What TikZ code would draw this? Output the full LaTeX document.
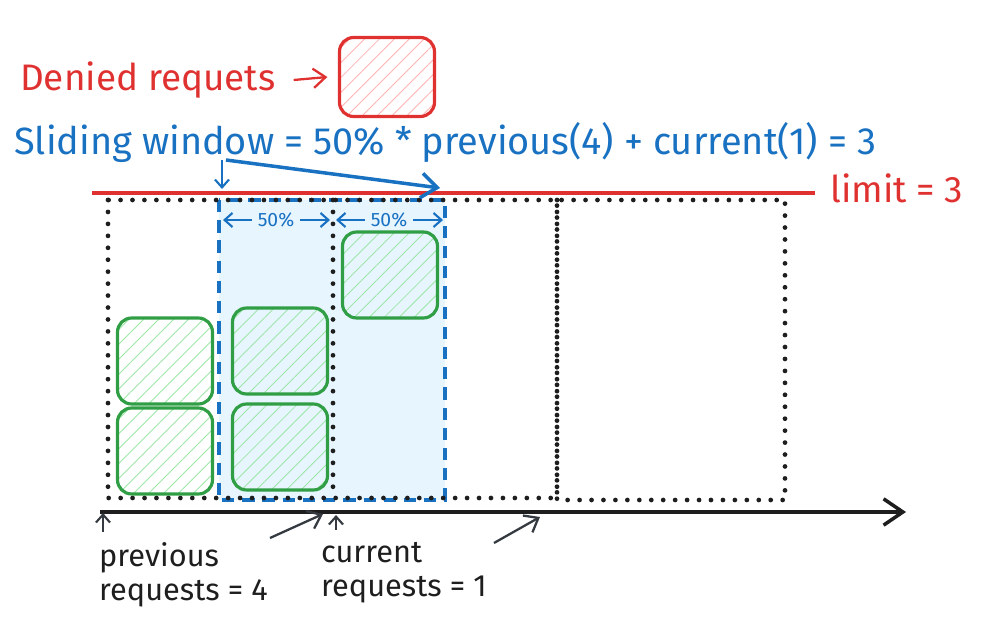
\documentclass[tikz,border=0pt]{standalone}
\usepackage{fontspec}
\setmainfont{Fira Sans}
\usepackage{xcolor}
\usetikzlibrary{positioning, arrows.meta, patterns.meta}
\definecolor{redink}{HTML}{E03131}
\definecolor{redhatch}{HTML}{FFB3B3}
\definecolor{blueink}{HTML}{1971C2}
\definecolor{bluefill}{HTML}{E7F5FF}
\definecolor{greenink}{HTML}{2F9E44}
\definecolor{greenhatch}{HTML}{9EE6A8}
\definecolor{darkink}{HTML}{1E1E1E}
\definecolor{greyink}{HTML}{343A40}

\begin{document}
\begin{tikzpicture}[x=0.02cm, y=-0.02cm,
	req/.style={rectangle, rounded corners=8pt, line width=1.8pt, draw=greenink, minimum width=1.9cm, minimum height=1.72cm, inner sep=0pt, pattern={Lines[angle=45, distance=6pt, line width=0.5pt]}, pattern color=greenhatch},
	dotline/.style={darkink, line width=2.7pt, line cap=round, dash pattern=on 0pt off 6.8pt},
	barb/.style={-{Straight Barb[length=7pt, width=11pt, line width=1.3pt]}, line width=1.3pt},
	tinybarb/.style={-{Straight Barb[length=4.5pt, width=8pt, line width=1.2pt]}, line width=1.2pt},
	]
		\useasboundingbox (0,0) rectangle (992,642);

		%Windows
		\draw[blueink, fill=bluefill, line width=1.8pt, dash pattern=on 7pt off 4.5pt] (219,200) rectangle (445,500);
		\draw[dotline] (108,200) rectangle (557,498);
		\draw[dotline] (333,200) -- (333,498);
		\draw[dotline] (557,200) rectangle (785,500);

		%Nodes
		\node[req]        (prevA)     at (165,361)    {};
		\node[req]        (prevB)     at (165,451)    {};
		\node[req]        (prevC)     at (280,351)    {};
		\node[req]        (prevD)     at (280,447)    {};
		\node[req]        (currA)     at (390,275)    {};
		\node[req, draw=redink, pattern color=redhatch, minimum height=1.58cm] (denied) at (387,77) {};

		\node[text=redink, font=\fontsize{21}{24}\selectfont, anchor=west]    (deniedtxt)  at (14,80)    {Denied requets};
		\node[text=blueink, font=\fontsize{21.6}{24}\selectfont, anchor=west] (formula)    at (8,143)    {Sliding window = 50\% * previous(4) + current(1) = 3};
		\node[text=redink, font=\fontsize{21}{24}\selectfont, anchor=west]    (limit)      at (824,188)  {limit = 3};
		\node[text=blueink, font=\fontsize{11}{13}\selectfont]                (halfprev)   at (276,220)  {50\%};
		\node[text=blueink, font=\fontsize{11}{13}\selectfont]                (halfcurr)   at (389,220)  {50\%};
		\node[text=darkink, font=\fontsize{17.5}{19.5}\selectfont, align=left, anchor=north west] (prevtxt) at (93,536) {previous\\requests = 4};
		\node[text=darkink, font=\fontsize{17.5}{19.5}\selectfont, align=left, anchor=north west] (currtxt) at (315,536) {current\\requests = 1};

		\coordinate (limstart)  at (92,193);
		\coordinate (winstart)  at (222,160);
		\coordinate (winmark)   at (222,189);
		\coordinate (slidestart) at (226,160);
		\coordinate (slideend)  at (440,188);
		\coordinate (origin)    at (100,512);
		\coordinate (timeend)   at (906,512);
		\coordinate (prevmark)  at (103,513);
		\coordinate (currmark)  at (336,515);
		\coordinate (stepA)     at (270,538);
		\coordinate (stepAend)  at (323,514);
		\coordinate (stepB)     at (494,543);
		\coordinate (stepBend)  at (540,517);

		%Lines
		\draw[redink, line width=2pt] (limstart) -- (815,193);
		\draw[redink, barb] (deniedtxt.east) ++(12,0) -- ([xshift=-6]denied.west);
		\draw[blueink, tinybarb] (winstart) -- (winmark);
		\draw[blueink, -{Straight Barb[length=9pt, width=14pt, line width=2pt]}, line width=2pt] (slidestart) -- (slideend);
		\draw[blueink, tinybarb] (halfprev.west) -- (223,220);
		\draw[blueink, tinybarb] (halfprev.east) -- (330,220);
		\draw[blueink, tinybarb] (halfcurr.west) -- (336,220);
		\draw[blueink, tinybarb] (halfcurr.east) -- (443,220);
		\draw[darkink, line width=2pt, -{Straight Barb[length=11pt, width=15pt, line width=2pt]}] (origin) -- (timeend);
		\draw[greyink, tinybarb] (prevtxt.north west) ++(10,-4) -- (prevmark);
		\draw[greyink, tinybarb] (currtxt.north west) ++(21,-6) -- (currmark);
		\draw[greyink, barb] (stepA) -- (stepAend);
		\draw[greyink, barb] (stepB) -- (stepBend);
	\end{tikzpicture}
\end{document}
